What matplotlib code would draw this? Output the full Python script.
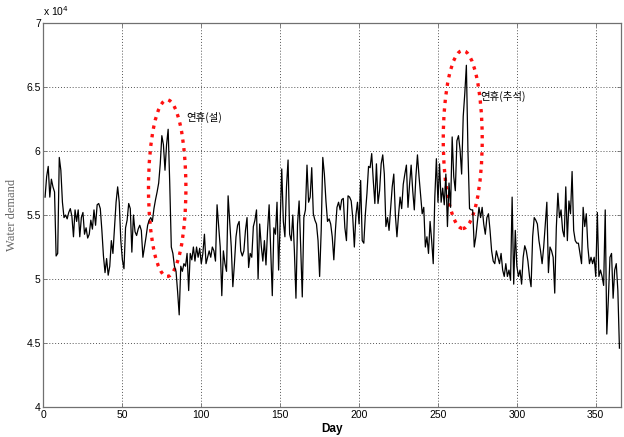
import matplotlib
matplotlib.use("Agg")
import matplotlib.pyplot as plt
from matplotlib.patches import Ellipse
from matplotlib.ticker import FuncFormatter, MultipleLocator

# Daily water demand (units of 10^4), days 1..365
demand_1e4 = [
    5.64, 5.80, 5.88, 5.64, 5.78, 5.72, 5.68, 5.18, 5.20, 5.95,
    5.85, 5.60, 5.48, 5.50, 5.47, 5.52, 5.55, 5.49, 5.33, 5.54,
    5.45, 5.54, 5.33, 5.48, 5.52, 5.35, 5.40, 5.32, 5.35, 5.46,
    5.39, 5.54, 5.42, 5.58, 5.59, 5.55, 5.38, 5.18, 5.05, 5.16,
    5.03, 5.10, 5.30, 5.20, 5.40, 5.60, 5.72, 5.60, 5.30, 5.15,
    5.08, 5.40, 5.46, 5.59, 5.55, 5.21, 5.50, 5.37, 5.34, 5.39,
    5.42, 5.38, 5.17, 5.25, 5.33, 5.42, 5.46, 5.48, 5.45, 5.55,
    5.62, 5.68, 5.75, 5.90, 6.12, 6.05, 5.85, 6.05, 6.17, 5.75,
    5.25, 5.20, 5.10, 5.06, 4.90, 4.72, 5.10, 5.06, 5.12, 5.10,
    5.20, 4.91, 5.20, 5.15, 5.25, 5.14, 5.25, 5.17, 5.24, 5.12,
    5.20, 5.35, 5.12, 5.17, 5.22, 5.17, 5.25, 5.22, 5.14, 5.58,
    5.41, 5.25, 4.87, 5.22, 5.12, 5.06, 5.65, 5.45, 5.25, 4.94,
    5.12, 5.33, 5.42, 5.45, 5.22, 5.18, 5.22, 5.38, 5.48, 5.09,
    5.20, 5.17, 5.41, 5.46, 5.54, 5.00, 5.43, 5.26, 5.14, 5.30,
    5.11, 5.38, 5.58, 5.22, 4.87, 5.40, 5.35, 5.60, 5.07, 5.45,
    5.86, 5.45, 5.33, 5.72, 5.93, 5.35, 5.30, 5.50, 5.22, 4.85,
    5.43, 5.61, 5.25, 4.86, 5.48, 5.54, 5.89, 5.60, 5.64, 5.87,
    5.51, 5.46, 5.43, 5.30, 5.02, 5.38, 5.95, 5.82, 5.61, 5.45,
    5.47, 5.43, 5.33, 5.15, 5.38, 5.56, 5.60, 5.54, 5.62, 5.63,
    5.40, 5.30, 5.65, 5.64, 5.61, 5.48, 5.25, 5.50, 5.60, 5.43,
    5.77, 5.30, 5.28, 5.51, 5.67, 5.88, 5.87, 5.98, 5.77, 5.59,
    5.90, 5.59, 5.69, 5.90, 5.97, 5.82, 5.41, 5.48, 5.38, 5.55,
    5.72, 5.82, 5.50, 5.33, 5.50, 5.64, 5.55, 5.74, 5.82, 5.89,
    5.56, 5.74, 5.89, 5.69, 5.54, 5.80, 5.97, 5.80, 5.65, 5.51,
    5.56, 5.25, 5.33, 5.20, 5.45, 5.30, 5.12, 5.64, 5.94, 5.60,
    5.90, 5.60, 5.71, 5.58, 5.82, 5.41, 5.75, 5.56, 6.11, 5.80,
    5.69, 6.08, 6.12, 6.01, 5.82, 6.27, 6.45, 6.67, 6.00, 5.55,
    5.54, 5.54, 5.25, 5.33, 5.45, 5.56, 5.48, 5.56, 5.43, 5.35,
    5.48, 5.51, 5.38, 5.22, 5.14, 5.12, 5.22, 5.17, 5.12, 5.20,
    5.07, 5.02, 5.12, 5.02, 5.07, 4.99, 5.64, 4.96, 5.38, 5.10,
    5.02, 5.07, 4.96, 5.17, 5.26, 5.22, 5.14, 5.02, 4.94, 5.33,
    5.48, 5.46, 5.43, 5.30, 5.22, 5.12, 5.25, 5.43, 5.60, 5.05,
    5.25, 5.22, 5.17, 4.89, 5.40, 5.67, 5.48, 5.54, 5.38, 5.33,
    5.72, 5.30, 5.61, 5.51, 5.84, 5.38, 5.30, 5.28, 5.28, 5.20,
    5.12, 5.56, 5.41, 5.51, 5.25, 5.12, 5.17, 5.12, 5.17, 5.02,
    5.52, 5.02, 5.07, 5.02, 4.95, 5.54, 4.57, 4.85, 5.17, 5.20,
    4.85, 5.07, 5.12, 4.91, 4.46,
]
days = list(range(1, len(demand_1e4) + 1))

x_ticks = [0, 50, 100, 150, 200, 250, 300, 350]
y_ticks = [4, 4.5, 5, 5.5, 6, 6.5, 7]

# Holiday annotations: (label, ellipse center day, center value, width days, height)
holiday_labels = ["연휴(설)", "연휴(추석)"]
holiday_centers = [(78.4, 5.71), (265.7, 6.09)]
holiday_sizes = [(23.7, 1.38), (24.7, 1.39)]
label_pos = [(90.4, 6.26), (276.6, 6.43)]

fig = plt.figure(figsize=(6.24, 4.37), dpi=100)
ax = fig.add_axes([0.0697, 0.0686, 0.9255, 0.8787])

ax.plot(days, demand_1e4, color="black", linewidth=0.9)

for (cx, cy), (w, h) in zip(holiday_centers, holiday_sizes):
    e = Ellipse((cx, cy), w, h, fill=False, edgecolor="#ff1010",
                linestyle=(0, (1, 1.6)), linewidth=2.4)
    ax.add_patch(e)

for lab, (tx, ty) in zip(holiday_labels, label_pos):
    ax.text(tx, ty, lab, fontsize=7.5, va="center", ha="left",
            family=["Noto Sans CJK KR", "DejaVu Sans"], color="black")

ax.set_xlim(0, 366)
ax.set_ylim(4, 7)
ax.xaxis.set_major_locator(MultipleLocator(50))
ax.set_xticks(x_ticks)
ax.set_yticks(y_ticks)
ax.yaxis.set_major_formatter(FuncFormatter(lambda v, p: f"{v:g}"))

ax.grid(True, color="#555555", linestyle=(0, (1, 2)), linewidth=0.7)
for s in ax.spines.values():
    s.set_color("#707070")
    s.set_linewidth(0.9)
ax.tick_params(direction="in", length=3, width=0.6, color="#707070",
               top=True, right=True, labelsize=7.5, pad=2)
for lbl in ax.get_xticklabels() + ax.get_yticklabels():
    lbl.set_family("Liberation Sans")

ax.set_xlabel("Day", fontsize=8.5, fontweight="bold",
              family="Liberation Sans", labelpad=2)
ax.set_ylabel("Water demand", fontsize=9, family="Liberation Serif",
              color="#666666", labelpad=6)

ax.text(0.0, 1.012, r"x 10$^{4}$", transform=ax.transAxes, fontsize=7.5,
        family="Liberation Sans", ha="left", va="bottom")

fig.savefig("out.png", dpi=100)
